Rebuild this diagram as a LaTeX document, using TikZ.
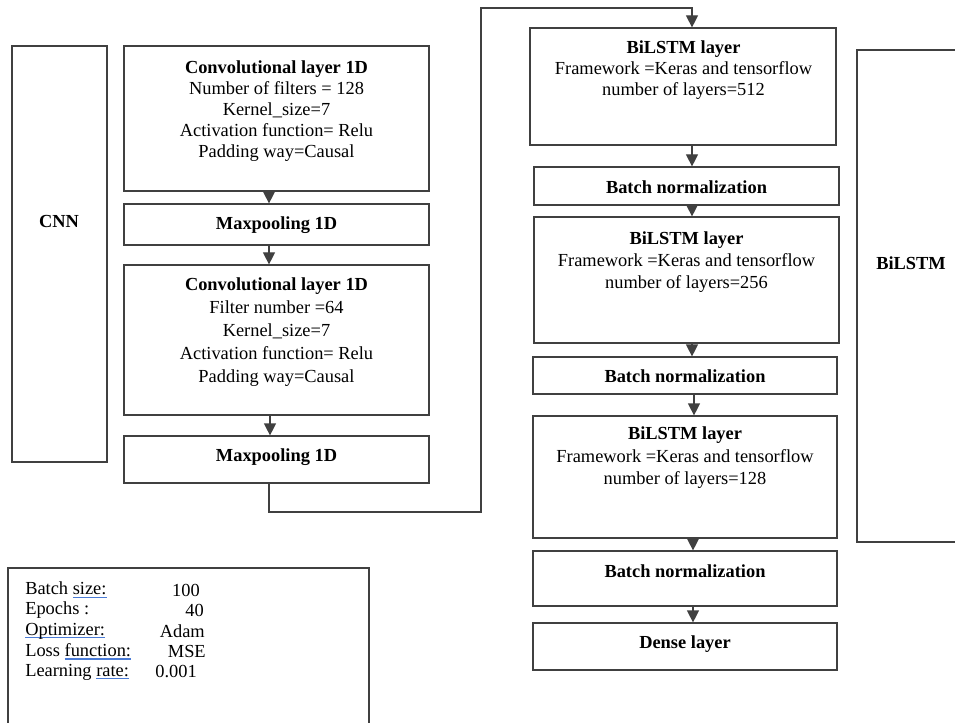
\documentclass[tikz,border=0pt]{standalone}
\usepackage{fontspec}
\setmainfont{Liberation Serif}
\usetikzlibrary{arrows.meta,fit}
\definecolor{linegray}{HTML}{404040}
\definecolor{ulblue}{HTML}{4A7BD6}
\newsavebox{\spellbox}
\newcommand{\spellmark}[1]{\sbox{\spellbox}{#1}\leavevmode\rlap{\color{ulblue}\rule[-2.4pt]{\wd\spellbox}{0.9pt}}\usebox{\spellbox}}
\begin{document}
\begin{tikzpicture}[x=0.75pt,y=-0.75pt,
  box/.style={draw=linegray, line width=0.9pt, inner sep=0pt, fit={#1}},
  txt/.style={align=center, inner sep=0pt, font=\fontsize{13.8pt}{#1}\selectfont},
  txt/.default={15.75pt},
  lbl/.style={inner sep=0pt, font=\fontsize{13.8pt}{16pt}\selectfont\bfseries},
  par/.style={inner sep=0pt, font=\fontsize{13.8pt}{16pt}\selectfont},
  arr/.style={draw=linegray, line width=0.9pt, -{Triangle[width=9pt,length=9pt]}},
  conn/.style={draw=linegray, line width=0.9pt}]
\clip (0,0) rectangle (955,723);
\fill[white] (0,0) rectangle (955,723);
% boxes
\node[box={(12,46) (107,462)}] (cnn) {};
\node[box={(124,46) (429,191)}] (c1) {};
\node[box={(124,204) (429,245)}] (m1) {};
\node[box={(124,265) (429,415)}] (c2) {};
\node[box={(124,436) (429,483)}] (m2) {};
\node[box={(530,28) (836,145)}] (b1) {};
\node[box={(534,167) (839,205)}] (n1) {};
\node[box={(534,217) (839,343)}] (b2) {};
\node[box={(533,357) (837,394)}] (n2) {};
\node[box={(533,416) (837,538)}] (b3) {};
\node[box={(533,551) (837,606)}] (n3) {};
\node[box={(533,623) (837,670)}] (dl) {};
\node[box={(857,50) (975,542)}] (bil) {};
\node[box={(8,568) (369,745)}] (par) {};
% texts
\node[lbl] (cnnt) at (59,221) {CNN};
\node[lbl] (bilt) at (911,263) {BiLSTM};
\node[txt] (c1t) at (276.5,111) {\textbf{Convolutional layer 1D}\\Number of filters = 128\\Kernel\_size=7\\Activation function= Relu\\Padding way=Causal};
\node[lbl] (m1t) at (276.5,225.5) {Maxpooling 1D};
\node[txt=17.25pt] (c2t) at (276.5,332.5) {\textbf{Convolutional layer 1D}\\Filter number =64\\Kernel\_size=7\\Activation function= Relu\\Padding way=Causal};
\node[lbl] (m2t) at (276.5,457.5) {Maxpooling 1D};
\node[txt] (b1t) at (683.5,70.5) {\textbf{BiLSTM layer}\\Framework =Keras and tensorflow\\number of layers=512};
\node[lbl] (n1t) at (686.5,187.5) {Batch normalization};
\node[txt=16.5pt] (b2t) at (686.5,262.5) {\textbf{BiLSTM layer}\\Framework =Keras and tensorflow\\number of layers=256};
\node[lbl] (n2t) at (685,376) {Batch normalization};
\node[txt=16.9pt] (b3t) at (685,458) {\textbf{BiLSTM layer}\\Framework =Keras and tensorflow\\number of layers=128};
\node[lbl] (n3t) at (685,571.5) {Batch normalization};
\node[lbl] (dlt) at (685,644) {Dense layer};
% parameters
\node[par, anchor=west] (p1) at (25,590) {Batch \spellmark{size:}};
\node[par, anchor=west] (p2) at (25,610.5) {Epochs :};
\node[par, anchor=west] (p3) at (25,631) {\spellmark{Optimizer:}};
\node[par, anchor=west] (p4) at (25,651.5) {Loss \spellmark{function:}};
\node[par, anchor=west] (p5) at (25,672) {Learning \spellmark{rate:}};
\node[par, anchor=east] (v1) at (200,590) {100};
\node[par, anchor=east] (v2) at (204,610.5) {40};
\node[par, anchor=east] (v3) at (205,631) {Adam};
\node[par, anchor=east] (v4) at (206,651.5) {MSE};
\node[par, anchor=east] (v5) at (197,672) {0.001};
% connectors
\coordinate (ax) at (269,0);
\coordinate (ax2) at (270,0);
\coordinate (bx) at (692,0);
\coordinate (bx2) at (694,0);
\coordinate (bx3) at (693,0);
\coordinate (k1) at (481,512);
\coordinate (k2) at (481,8);
\draw[arr] (c1.south -| ax) -- (m1.north -| ax);
\draw[arr] (m1.south -| ax) -- (c2.north -| ax);
\draw[arr] (c2.south -| ax2) -- (m2.north -| ax2);
\draw[arr] (m2.south -| ax) |- (k1) -- (k2) -| (b1.north -| bx);
\draw[arr] (b1.south -| bx) -- (n1.north -| bx);
\draw[arr] (n1.south -| bx) -- (b2.north -| bx);
\draw[arr] (b2.south -| bx) -- (n2.north -| bx);
\draw[arr] (n2.south -| bx2) -- (b3.north -| bx2);
\draw[arr] (b3.south -| bx3) -- (n3.north -| bx3);
\draw[arr] (n3.south -| bx3) -- (dl.north -| bx3);
\end{tikzpicture}
\end{document}
